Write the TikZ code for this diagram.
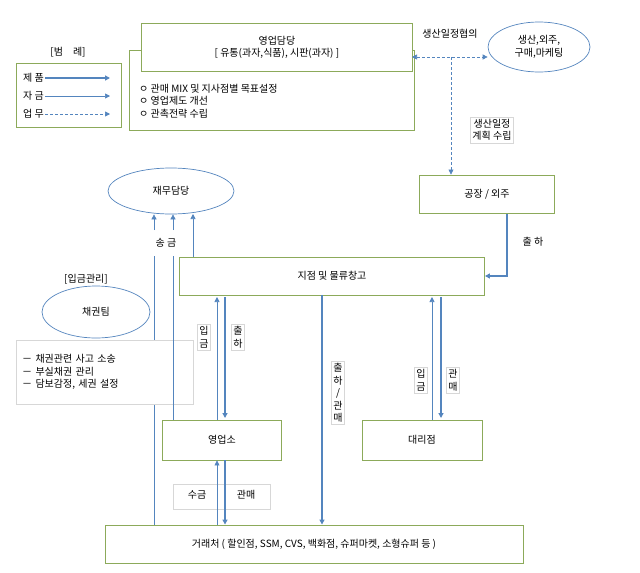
\documentclass[tikz,border=0pt]{standalone}
\usepackage{fontspec}
\setmainfont{Noto Sans CJK KR}
\usetikzlibrary{arrows.meta,shapes.geometric}
\definecolor{ab}{RGB}{84,133,190}
\definecolor{gb}{RGB}{140,170,90}
\definecolor{lg}{RGB}{215,215,215}
\tikzset{
 box/.style={draw=gb,line width=0.9pt,fill=white,inner sep=0pt},
 ell/.style={draw=ab,line width=0.7pt,ellipse,fill=white},
 prod/.style={draw=ab,line width=1.4pt,-{Triangle[length=5pt,width=5pt]}},
 fund/.style={draw=ab,line width=0.7pt,-{Triangle[length=5pt,width=5pt]}},
 work/.style={draw=ab,line width=0.7pt,densely dashed,-{Triangle[length=5pt,width=5pt]}},
 lbl/.style={font=\fontsize{10}{12.5}\selectfont,align=center,inner sep=1pt},
 lbox/.style={lbl,draw=lg,line width=0.4pt,fill=white,inner sep=2pt},
}
\begin{document}
\begin{tikzpicture}[x=1pt,y=-1pt]
\useasboundingbox (0,0) rectangle (640,573);
% legend
\node[lbl] (lt) at (68,52) {[범\quad 례]};
\node[box,minimum width=105,minimum height=64,anchor=north west] (leg) at (16,63) {};
\node[lbl,anchor=west] (l1) at (22,78) {제 품};
\node[lbl,anchor=west] (l2) at (22,96) {자 금};
\node[lbl,anchor=west] (l3) at (22,114) {업 무};
\coordinate (e1) at (110,78); \coordinate (e2) at (110,96); \coordinate (e3) at (110,114);
\draw[prod] (l1.east) -- (e1);
\draw[fund] (l2.east) -- (e2);
\draw[work] (l3.east) -- (e3);
% sales head
\node[box,minimum width=285,minimum height=80,anchor=north west] (big) at (129,50) {};
\node[box,minimum width=271,minimum height=48,anchor=north west,lbl] (top) at (141,23) {영업담당\\{[}\ 유통(과자,식품), 시판(과자)\ {]}};
\node[lbl,anchor=west,align=left] (bul) at (138,101) {ㅇ 관매 MIX 및 지사점별 목표설정\\ㅇ 영업제도 개선\\ㅇ 관촉전략 수립};
\node[ell,minimum width=102,minimum height=50,lbl] (prodn) at (539,47) {생산,외주,\\구매,마케팅};
\node[lbox,draw=none] (hy) at (450,34) {생산일정협의};
\coordinate (tr) at (412,57);
\draw[work,{Triangle[length=5pt,width=5pt]}-{Triangle[length=5pt,width=5pt]}] (tr) -- (prodn.west |- tr);
\coordinate (dtop) at (451,57);
\node[box,minimum width=135,minimum height=38,lbl] (fac) at (487,194) {공장 / 외주};
\draw[work] (dtop) -- (fac.north -| dtop);
\node[lbox,draw=lg] (plan) at (492,130) {생산일정\\계획 수립};
% finance
\node[ell,minimum width=126,minimum height=46,lbl] (fin) at (171,191) {재무담당};
\node[box,minimum width=305,minimum height=38,lbl] (wh) at (332,276) {지점 및 물류창고};
\coordinate (f1) at (507,214);
\coordinate (f2) at (507,276);
\draw[prod] (f1) -- (f2) -- (wh.east);
\node[lbl] (ch) at (533,242) {출 하};
\node[lbl] (sg) at (166,243) {송 금};
\node[box,minimum width=119,minimum height=40,lbl] (ys) at (222,440) {영업소};
\node[box,minimum width=120,minimum height=40,lbl] (dr) at (422,440) {대리점};
\node[box,minimum width=418,minimum height=38,lbl] (cu) at (314,544) {거래처 ( 할인점, SSM, CVS, 백화점, 슈퍼마켓, 소형슈퍼 등 )};
% remittance
\coordinate (s1a) at (154,230); \coordinate (s1b) at (154,256);
\coordinate (s2a) at (173,230); \coordinate (s2b) at (173,256);
\draw[fund] (s1a) -- (s1a |- fin.south);
\draw[fund] (s2a) -- (s2a |- fin.south);
\draw[fund] (wh.north -| 193,0) -- (193,214);
\draw[ab,line width=0.7pt] (s1b) -- (s1b |- cu.north);
% credit
\node[lbl] (ig) at (86,279) {[입금관리]};
\node[ell,minimum width=108,minimum height=52,lbl] (cr) at (96,312) {채권팀};
\node[lbl,draw=lg,fill=white,minimum width=177,minimum height=64,anchor=north west,align=left,text width=165,inner sep=6pt] (crt) at (16,340) {－ 채권관련 사고 소송\\－ 부실채권 관리\\－ 담보감정, 세권 설정};
\draw[ab,line width=0.7pt] (s2b) -- (s2b |- ys.north);
% branch arrows
\draw[fund] (217,420) -- (217,297);
\draw[prod] (225,297) -- (225,418);
\node[lbox] (a1) at (204,337) {입\\금};
\node[lbox] (a2) at (238,337) {출\\하};
\draw[fund] (432,420) -- (432,297);
\draw[prod] (441,297) -- (441,418);
\node[lbox] (a3) at (421,380) {입\\금};
\node[lbox] (a4) at (453,380) {관\\매};
\draw[prod] (wh.south -| 322,0) -- (cu.north -| 322,0);
\node[lbox] (a5) at (338,393) {출\\하\\/\\관\\매};
\node[lbox,minimum width=97,minimum height=25] (sk) at (222,497) {};
\node[lbl] (sk1) at (197,495) {수금};
\node[lbl] (sk2) at (246,495) {관매};
\draw[fund] (cu.north -| 217,0) -- (ys.south -| 217,0);
\draw[prod] (ys.south -| 225,0) -- (cu.north -| 225,0);
\end{tikzpicture}
\end{document}
